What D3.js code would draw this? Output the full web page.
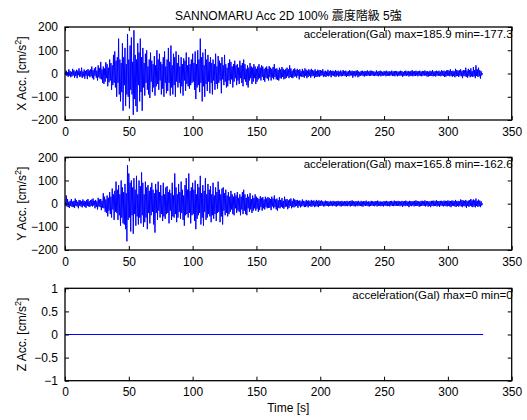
<!DOCTYPE html>
<html>
<head>
<meta charset="utf-8">
<script src="https://cdn.jsdelivr.net/npm/d3@7"></script>
<style>
body { margin: 0; background: #fff; }
svg text { font-family: "Liberation Sans", "Noto Sans CJK JP", sans-serif; fill: #000; }
</style>
</head>
<body>
<svg id="chart" width="527" height="420"></svg>
<script>

// sample step of the peak series below (s)
const dt = 0.5;

// X channel peaks, two per second
const xAcc = [
    8,-5,12,-10,6,-14,18,-9,11,-16,7,-12,20,-8,14,-18,9,-11,16,-20,
    12,-7,22,-15,10,-13,25,-19,8,-12,17,-22,11,-9,15,-24,19,-10,13,-16,
    18,-12,30,-20,14,-26,22,-10,28,-18,12,-30,35,-16,24,-22,50,-25,18,-40,
    30,-45,22,-35,48,-20,40,-55,25,-38,60,-30,45,-70,35,-50,80,-40,95,-60,
    55,-100,70,-40,150,-90,60,-120,45,-80,130,-160,70,-50,110,-140,40,-90,170,-100,
    60,-150,120,-70,155,-90,50,-177.3,185.9,-110,80,-140,60,-165,130,-50,90,-120,150,-80,
    70,-160,110,-60,45,-95,85,-40,100,-70,30,-90,60,-105,90,-35,55,-80,40,-60,
    75,-95,35,-55,100,-45,60,-70,85,-30,50,-90,40,-65,70,-100,95,-40,30,-85,
    60,-75,110,-40,50,-95,120,-60,35,-90,85,-50,70,-100,95,-35,45,-60,80,-40,
    30,-85,70,-55,40,-95,65,-30,55,-75,90,-45,35,-55,70,-65,40,-50,60,-40,
    85,-35,45,-70,95,-110,40,-60,100,-50,60,-80,150,-40,70,-120,90,-55,35,-100,
    105,-45,60,-75,80,-35,50,-85,70,-40,45,-90,60,-30,40,-70,85,-45,30,-65,
    75,-40,55,-30,45,-85,70,-25,35,-50,80,-35,40,-60,25,-55,45,-30,60,-45,
    50,-25,30,-60,40,-35,55,-20,35,-50,40,-30,25,-45,55,-20,35,-40,45,-55,
    60,-25,40,-35,20,-50,35,-60,25,-30,45,-20,30,-45,25,-35,40,-20,30,-45,
    20,-35,30,-25,40,-20,25,-30,35,-15,30,-28,20,-35,25,-18,30,-22,20,-30,
    32,-15,25,-30,20,-18,28,-25,40,-15,20,-25,22,-28,15,-30,25,-20,18,-22,
    28,-15,20,-25,15,-22,20,-18,25,-12,18,-20,35,-15,22,-18,12,-20,18,-14,
    22,-12,15,-18,20,-10,14,-25,18,-12,10,-15,20,-14,12,-18,22,-10,16,-20,
    12,-15,18,-10,14,-18,20,-12,15,-10,12,-20,18,-14,10,-15,16,-12,14,-15,
    15,-10,12,-8,18,-14,9,-12,12,-15,8,-10,16,-12,10,-9,14,-16,11,-8,
    12,-10,9,-14,15,-13,10,-8,12,-14,8,-10,13,-12,9,-11,15,-9,10,-11,
    12,-15,8,-10,10,-12,14,-9,10,-8,12,-18,9,-10,10,-13,12,-8,14,-16,
    9,-12,7,-10,11,-8,12,-10,8,-13,11,-9,10,-11,13,-8,9,-11,12,-10,
    12,-8,10,-10,9,-11,7,-9,13,-10,8,-12,10,-8,12,-12,9,-10,7,-9,
    11,-8,9,-12,12,-10,8,-9,10,-11,8,-7,12,-11,9,-10,10,-12,11,-8,
    10,-12,8,-9,9,-10,12,-8,10,-14,7,-11,10,-9,12,-11,9,-8,11,-13,
    8,-10,11,-9,14,-12,9,-10,10,-11,12,-8,9,-12,10,-9,12,-10,8,-12,
    11,-9,10,-10,13,-8,9,-12,10,-14,8,-11,12,-10,9,-11,15,-12,8,-10,
    10,-13,12,-9,9,-10,12,-10,8,-12,14,-9,11,-11,12,-15,9,-13,13,-10,
    15,-9,12,-12,18,-10,10,-14,12,-11,9,-16,20,-12,15,-10,12,-15,14,-9,
    18,-12,10,-20,15,-10,13,-12,25,-14,12,-18,20,-10,15,-16,22,-12,10,-15,
    28,-12,15,-20,35,-10,18,-15,25,-12,14,-22,10,-8,0,0
];

// Y channel peaks
const yAcc = [
    10,-8,35,-12,20,-15,8,-18,12,-10,20,-14,9,-15,12,-18,22,-10,14,-12,
    8,-20,16,-9,14,-12,10,-16,18,-8,12,-14,9,-18,16,-10,20,-12,10,-14,
    15,-10,18,-12,22,-8,12,-20,16,-14,10,-25,25,-12,18,-15,20,-28,12,-18,
    45,-20,30,-35,18,-40,35,-55,25,-30,50,-45,30,-60,65,-25,40,-70,55,-35,
    95,-40,60,-70,80,-50,40,-95,100,-60,70,-85,50,-90,85,-110,45,-162.6,165.8,-70,
    130,-60,90,-120,100,-50,70,-130,110,-45,60,-95,120,-55,40,-90,100,-60,75,-85,
    135,-50,90,-100,40,-80,95,-60,70,-110,80,-40,55,-85,70,-50,90,-35,60,-90,
    45,-125,85,-40,60,-70,95,-30,50,-60,80,-45,35,-75,90,-55,40,-65,70,-45,
    75,-40,50,-85,60,-30,45,-70,90,-55,35,-60,130,-45,70,-80,40,-60,85,-35,
    50,-65,95,-40,60,-70,35,-95,80,-50,110,-45,60,-60,130,-40,55,-85,70,-50,
    90,-45,60,-75,100,-110,40,-65,85,-50,70,-40,120,-90,45,-60,80,-95,55,-35,
    110,-70,40,-60,85,-45,60,-55,75,-80,40,-50,90,-65,35,-45,70,-75,50,-40,
    95,-35,60,-80,40,-55,65,-90,70,-30,45,-50,60,-40,35,-55,50,-45,30,-35,
    55,-25,40,-45,30,-50,45,-20,35,-40,50,-30,25,-35,40,-50,30,-25,50,-45,
    60,-30,40,-45,25,-50,40,-20,30,-35,45,-25,20,-40,35,-30,25,-20,40,-30,
    30,-22,25,-35,20,-28,32,-15,25,-30,28,-20,18,-25,30,-15,22,-20,28,-18,
    25,-18,20,-28,30,-12,22,-20,35,-15,18,-25,22,-30,15,-18,28,-20,16,-14,
    24,-18,12,-22,30,-15,18,-12,20,-24,14,-18,18,-10,22,-20,12,-15,22,-16,
    18,-12,15,-10,16,-18,12,-10,14,-16,10,-12,18,-9,12,-15,10,-14,16,-11,
    12,-16,14,-10,10,-12,16,-13,12,-9,14,-15,10,-12,16,-11,12,-15,14,-10,
    12,-10,14,-8,10,-12,9,-11,13,-9,10,-10,11,-12,8,-10,12,-9,9,-11,
    12,-8,10,-10,9,-13,11,-9,12,-8,9,-11,10,-12,12,-9,9,-10,11,-11,
    10,-9,12,-11,9,-8,11,-12,12,-10,14,-9,10,-11,9,-12,11,-8,10,-11,
    12,-9,8,-10,12,-11,9,-13,11,-8,10,-10,13,-9,8,-11,10,-12,9,-10,
    12,-9,10,-10,9,-11,11,-8,10,-12,13,-10,9,-9,10,-11,8,-10,9,-12,
    11,-8,10,-10,12,-11,9,-9,10,-12,11,-8,12,-10,9,-11,13,-9,10,-10,
    11,-10,12,-9,10,-11,9,-8,12,-14,10,-9,11,-11,13,-8,10,-10,9,-15,
    12,-9,11,-11,10,-8,10,-12,12,-10,14,-9,11,-10,10,-13,9,-11,12,-10,
    12,-9,10,-10,14,-12,11,-8,11,-13,9,-10,10,-15,12,-9,12,-11,13,-10,
    10,-10,15,-12,11,-9,11,-14,12,-8,12,-10,10,-12,13,-9,12,-11,11,-12,
    14,-10,12,-12,11,-15,13,-9,13,-10,10,-12,16,-14,11,-10,12,-13,10,-9,
    18,-12,15,-15,14,-10,12,-12,16,-18,11,-10,13,-14,15,-10,20,-12,14,-15,
    18,-12,14,-16,22,-10,12,-14,17,-11,13,-15,10,-8,0,0
];

// Z channel is flat
const zTime = [0, 327.6];
const zAcc = [0, 0];

const xTicks = [0, 50, 100, 150, 200, 250, 300, 350];
const accTicks = [-200, -100, 0, 100, 200];
const zTicks = [-1, -0.5, 0, 0.5, 1];

const titleText = "SANNOMARU Acc 2D 100% 震度階級 5強";

let svg = d3.select("#chart");

let left = 65, right = 511.7;

let x = d3.scaleLinear().domain([0, 350]).range([left, right]);

function toPoints(vals, times)
{
    return vals.map((v, i) => [times ? times[i] : i * dt, v]);
}

function makePanel(top, bottom, pts, yDomain, yTicks, name, stats)
{
    let y = d3.scaleLinear().domain(yDomain).range([bottom, top]);

    let g = svg.append("g");

    g.append("clipPath").attr("id", "clip" + name)
    .append("rect")
    .attr("x", left).attr("y", top)
    .attr("width", right - left).attr("height", bottom - top);

    let line = d3.line().x(d => x(d[0])).y(d => y(d[1]));

    g.append("path")
    .datum(pts)
    .attr("d", line)
    .attr("fill", "none")
    .attr("stroke", "#0000ff")
    .attr("stroke-width", 1)
    .attr("clip-path", "url(#clip" + name + ")");

    // axes, matlab style ticks pointing inwards on all four sides
    let bottomAxis = d3.axisBottom(x).tickValues(xTicks).tickSizeInner(-4).tickSizeOuter(0).tickPadding(7);
    let topAxis = d3.axisTop(x).tickValues(xTicks).tickSizeInner(-4).tickSizeOuter(0).tickFormat("");
    let leftAxis = d3.axisLeft(y).tickValues(yTicks).tickSizeInner(-4).tickSizeOuter(0).tickPadding(7)
        .tickFormat(d => d < 0 ? "\u2212" + Math.abs(d) : d);
    let rightAxis = d3.axisRight(y).tickValues(yTicks).tickSizeInner(-4).tickSizeOuter(0).tickFormat("");

    g.append("g").attr("transform", "translate(0," + bottom + ")").call(bottomAxis);
    g.append("g").attr("transform", "translate(0," + top + ")").call(topAxis);
    g.append("g").attr("transform", "translate(" + left + ",0)").call(leftAxis);
    g.append("g").attr("transform", "translate(" + right + ",0)").call(rightAxis);

    g.selectAll(".domain").remove();
    g.selectAll(".tick line").attr("stroke", "#000");
    g.selectAll(".tick text").attr("font-size", 12).attr("fill", "#000").attr("font-family", "Liberation Sans, sans-serif");

    g.append("rect")
    .attr("x", left).attr("y", top)
    .attr("width", right - left).attr("height", bottom - top)
    .attr("fill", "none").attr("stroke", "#000").attr("stroke-width", 1.3);

    // y label with superscript
    let lab = g.append("text")
    .attr("transform", "translate(26," + ((top + bottom) / 2) + ") rotate(-90)")
    .attr("text-anchor", "middle")
    .attr("font-size", 12);
    lab.append("tspan").text(name + " Acc. [cm/s");
    lab.append("tspan").attr("font-size", 9).attr("dy", -5).text("2");
    lab.append("tspan").attr("dy", 5).text("]");

    g.append("text")
    .attr("x", right + 1)
    .attr("y", top + 11)
    .attr("text-anchor", "end")
    .attr("font-size", 11.5)
    .text("acceleration(Gal) max=" + stats[0] + " min=" + stats[1]);

    return y;
}

let xPts = toPoints(xAcc);
let yPts = toPoints(yAcc);
let zPts = toPoints(zAcc, zTime);

makePanel(27, 120, xPts, [-200, 200], accTicks, "X", [d3.max(xAcc), d3.min(xAcc)]);
makePanel(157.3, 250, yPts, [-200, 200], accTicks, "Y", [d3.max(yAcc), d3.min(yAcc)]);
makePanel(288.3, 380.7, zPts, [-1, 1], zTicks, "Z", [d3.max(zAcc), d3.min(zAcc)]);

svg.append("text")
.attr("x", (left + right) / 2)
.attr("y", 20)
.attr("text-anchor", "middle")
.attr("font-size", 12)
.text(titleText);

svg.append("text")
.attr("x", (left + right) / 2)
.attr("y", 412)
.attr("text-anchor", "middle")
.attr("font-size", 12)
.text("Time [s]");

</script>
</body>
</html>
